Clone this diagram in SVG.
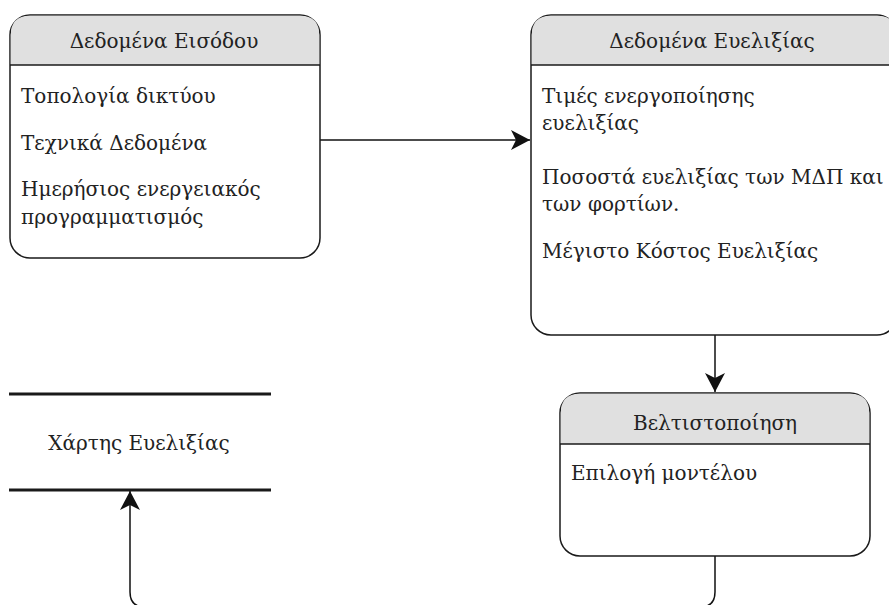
<svg xmlns="http://www.w3.org/2000/svg" width="889" height="605" viewBox="0 0 889 605">
  <style>
    .box { fill: #ffffff; stroke: #1a1a1a; stroke-width: 1.5; }
    .head { fill: #e0e0e0; stroke: none; }
    .sep { stroke: #1a1a1a; stroke-width: 1.5; }
    .title { font-family: "DejaVu Serif", "Liberation Serif", serif; font-size: 20px; fill: #222222; text-anchor: middle; }
    .item { font-family: "DejaVu Serif", "Liberation Serif", serif; font-size: 20px; fill: #222222; }
    .store { stroke: #1a1a1a; stroke-width: 3; }
    .edge { fill: none; stroke: #111111; stroke-width: 1.5; }
  </style>
  <defs>
    <marker id="arrow" viewBox="0 0 20 20" markerUnits="userSpaceOnUse" markerWidth="20" markerHeight="20" refX="19" refY="10" orient="auto">
      <path d="M0,0 L19,10 L0,20 L5,10 Z" fill="#111111"/>
    </marker>
  </defs>

  <rect width="889" height="605" fill="#ffffff"/>

  <!-- connectors -->
  <g id="connectors">
    <path class="edge" d="M320,140 L530,140" marker-end="url(#arrow)"/>
    <path class="edge" d="M715,335 L715,392" marker-end="url(#arrow)"/>
    <path class="edge" d="M715,556 L715,592 Q715,607 700,607 L145,607 Q130,607 130,592 L130,491" marker-end="url(#arrow)"/>
  </g>

  <!-- input data -->
  <g id="input-data">
    <rect class="box" x="10" y="15" width="310" height="243" rx="20"/>
    <path class="head" d="M10.75,65 L10.75,35 Q10.75,15.75 30,15.75 L300,15.75 Q319.25,15.75 319.25,35 L319.25,65 Z"/>
    <line class="sep" x1="10" y1="65" x2="320" y2="65"/>
    <text class="title" x="164" y="48">Δεδομένα Εισόδου</text>
    <text class="item" x="21" y="103">Τοπολογία δικτύου</text>
    <text class="item" x="21" y="150">Τεχνικά Δεδομένα</text>
    <text class="item" x="21" y="196">Ημερήσιος ενεργειακός</text>
    <text class="item" x="21" y="224">προγραμματισμός</text>
  </g>

  <!-- flexibility data -->
  <g id="flex-data">
    <rect class="box" x="531" y="15" width="366" height="320" rx="20"/>
    <path class="head" d="M531.75,65 L531.75,35 Q531.75,15.75 551,15.75 L877,15.75 Q896.25,15.75 896.25,35 L896.25,65 Z"/>
    <line class="sep" x1="531" y1="65" x2="897" y2="65"/>
    <text class="title" x="712" y="48">Δεδομένα Ευελιξίας</text>
    <text class="item" x="542" y="103">Τιμές ενεργοποίησης</text>
    <text class="item" x="542" y="130">ευελιξίας</text>
    <text class="item" x="542" y="184">Ποσοστά ευελιξίας των ΜΔΠ και</text>
    <text class="item" x="542" y="211">των φορτίων.</text>
    <text class="item" x="542" y="258">Μέγιστο Κόστος Ευελιξίας</text>
  </g>

  <!-- optimisation -->
  <g id="optimisation">
    <rect class="box" x="560" y="393" width="310" height="163" rx="20"/>
    <path class="head" d="M560.75,444 L560.75,413 Q560.75,393.75 580,393.75 L850,393.75 Q869.25,393.75 869.25,413 L869.25,444 Z"/>
    <line class="sep" x1="560" y1="444" x2="870" y2="444"/>
    <text class="title" x="715" y="430">Βελτιστοποίηση</text>
    <text class="item" x="571" y="480">Επιλογή μοντέλου</text>
  </g>

  <!-- flexibility map (data store) -->
  <g id="flex-map">
    <line class="store" x1="9" y1="394" x2="271" y2="394"/>
    <line class="store" x1="9" y1="490" x2="271" y2="490"/>
    <text class="title" x="139" y="450">Χάρτης Ευελιξίας</text>
  </g>
</svg>
